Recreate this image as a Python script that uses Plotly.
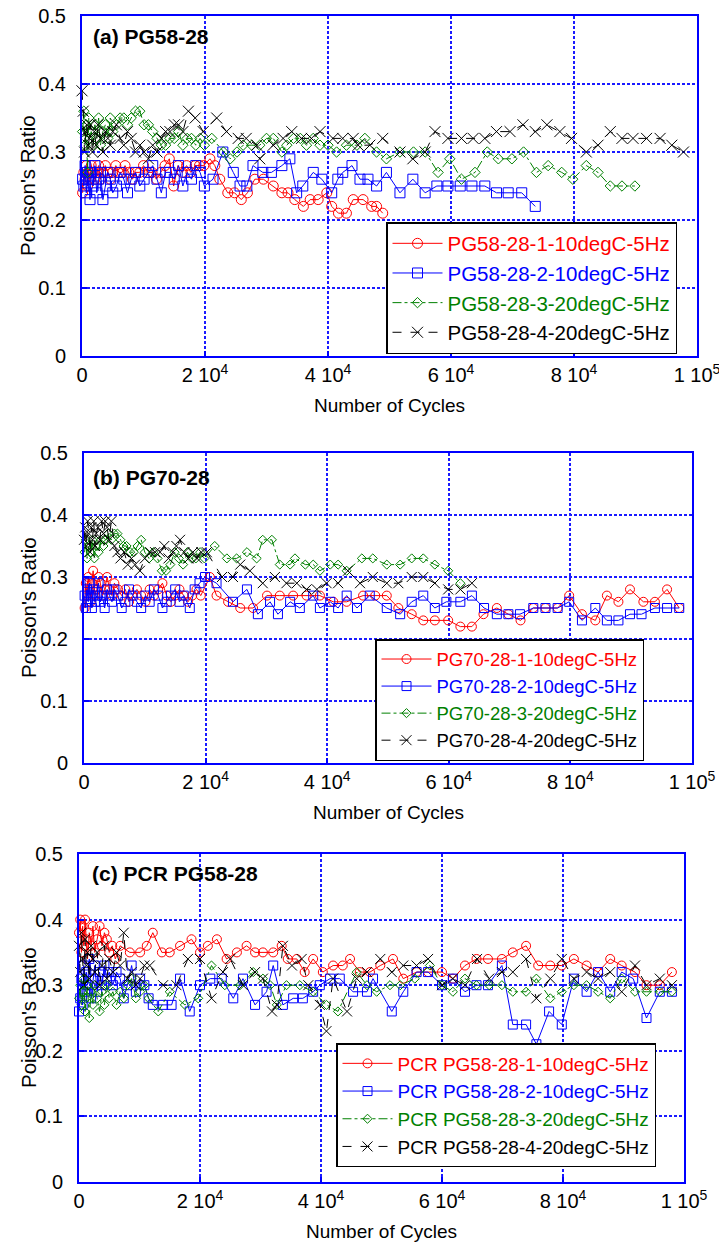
import plotly.graph_objects as go

# ---------------- data: number of cycles vs Poisson's ratio ----------------
# (a) PG58-28
a_red_x = [100, 300, 500, 700, 900, 1100, 1300, 1500, 1800, 2100, 2400, 2700, 3000, 3400, 3800, 4200, 4600,
           5000, 5500, 6000, 6500, 7000, 7600, 8200, 8800, 9400, 10000, 10700, 11400, 12100, 12800, 13500,
           14200, 14900, 15600, 16300, 17000, 17700, 18400, 19100, 19800,
           20800, 21600, 22400, 23700, 24800, 25900, 26900, 28100, 29500, 31100, 32500, 33500, 34600, 36000,
           37100, 38400, 39800, 40600, 41700, 43000, 44100, 45700, 47100, 47900, 48900]
a_red_y = [0.24, 0.27, 0.26, 0.28, 0.25, 0.27, 0.26, 0.28, 0.27, 0.26, 0.27, 0.28, 0.26, 0.27, 0.28, 0.27, 0.26,
           0.27, 0.28, 0.27, 0.27, 0.28, 0.27, 0.26, 0.27, 0.27, 0.28, 0.27, 0.27, 0.26, 0.27, 0.28,
           0.29, 0.25, 0.28, 0.27, 0.28, 0.27, 0.28, 0.28, 0.28,
           0.29, 0.28, 0.26, 0.24, 0.24, 0.23, 0.24, 0.26, 0.26, 0.25, 0.24, 0.24, 0.23, 0.22,
           0.23, 0.23, 0.24, 0.22, 0.21, 0.21, 0.23, 0.23, 0.22, 0.22, 0.21]

a_blue_x = [100, 300, 500, 700, 900, 1100, 1300, 1500, 1800, 2100, 2400, 2700, 3000, 3400, 3800, 4200, 4600,
            5000, 5600, 6200, 6800, 7400, 8000, 8700, 9400, 10100, 10800, 11500, 12200, 12900, 13600, 14300,
            15000, 15700, 16400, 17100, 17800, 18500, 19200, 19900,
            21300, 22900, 24600, 25700, 26800, 27800, 29400, 30800, 32500, 33800, 34900, 35900, 37600, 39000,
            40600, 41600, 42400, 43900, 45200, 46500, 47900, 49500, 51700, 53800, 55800, 57700, 59500, 61500,
            63400, 65500, 67400, 69300, 71500, 73700]
a_blue_y = [0.26, 0.25, 0.28, 0.24, 0.27, 0.26, 0.23, 0.27, 0.25, 0.28, 0.24, 0.26, 0.27, 0.23, 0.25, 0.27, 0.26,
            0.24, 0.25, 0.27, 0.26, 0.24, 0.26, 0.27, 0.25, 0.26, 0.27, 0.28, 0.26, 0.24, 0.27, 0.27,
            0.26, 0.28, 0.25, 0.27, 0.26, 0.28, 0.27, 0.25,
            0.26, 0.30, 0.27, 0.25, 0.25, 0.28, 0.27, 0.27, 0.28, 0.29, 0.24, 0.25, 0.27, 0.26,
            0.24, 0.26, 0.27, 0.28, 0.26, 0.26, 0.25, 0.27, 0.24, 0.26, 0.24, 0.25, 0.25, 0.25,
            0.25, 0.25, 0.24, 0.24, 0.24, 0.22]

a_green_x = [100, 300, 500, 700, 900, 1100, 1300, 1500, 1800, 2100, 2400, 2700, 3000, 3400, 3800, 4200, 4600,
             5000, 5600, 6200, 6800, 7400, 8000, 8700, 9400, 10100, 10800, 11500, 12200, 12900, 13600, 14300,
             15000, 15700, 16400, 17100, 17800, 18500, 19200, 19900,
             21100, 23000, 24100, 25200, 26200, 27600, 28900, 30000, 31100, 32500, 33300, 34400, 35500, 36500,
             37600, 38700, 40000, 41400, 43000, 44700, 46000, 47900, 49500, 51700, 53900, 55800, 57900, 59800,
             61700, 63900, 65900, 67700, 69900, 71800, 73900, 75800, 78000, 79800, 82000, 83900, 85900, 87800,
             89900]
a_green_y = [0.33, 0.36, 0.31, 0.34, 0.27, 0.35, 0.32, 0.33, 0.31, 0.34, 0.32, 0.35, 0.31, 0.33, 0.34, 0.32, 0.35,
             0.33, 0.34, 0.35, 0.35, 0.34, 0.35, 0.36, 0.36, 0.34, 0.34, 0.33, 0.32, 0.31, 0.31, 0.32,
             0.32, 0.33, 0.31, 0.32, 0.32, 0.31, 0.32, 0.31,
             0.32, 0.30, 0.29, 0.30, 0.31, 0.31, 0.31, 0.32, 0.32, 0.30, 0.31, 0.32, 0.32, 0.31,
             0.32, 0.31, 0.31, 0.30, 0.31, 0.31, 0.32, 0.30, 0.29, 0.30, 0.30, 0.30, 0.27, 0.29,
             0.26, 0.27, 0.30, 0.29, 0.29, 0.30, 0.27, 0.28, 0.27, 0.26, 0.28, 0.27, 0.25, 0.25,
             0.25]

a_black_x = [0, 200, 400, 600, 800, 1000, 1200, 1400, 1700, 2000, 2300, 2600, 3000, 3400, 3800, 4200, 4600,
             5000, 5600, 6200, 6800, 7400, 8000, 8700, 9400, 10100, 10800, 11500, 12200, 12900, 13600, 14300,
             15000, 15700, 16400, 17300, 18400, 19700, 21900,
             23500, 25400, 26700, 28400, 28900, 31100, 32700, 34100, 35700, 37300, 38700, 40800, 42400, 44100,
             44900, 46800, 48900, 51700, 53800, 55800, 57400, 59500, 61700, 63600, 65500, 67400, 69600, 71700,
             73700, 75600, 77700, 79600, 82000, 83900, 85900, 87800, 89600, 91800, 94000, 95900, 97800]
a_black_y = [0.39, 0.36, 0.30, 0.33, 0.34, 0.31, 0.32, 0.34, 0.30, 0.33, 0.31, 0.34, 0.32, 0.30, 0.33, 0.32, 0.31,
             0.33, 0.34, 0.32, 0.31, 0.33, 0.32, 0.30, 0.31, 0.30, 0.29, 0.31, 0.30, 0.32, 0.33, 0.33,
             0.34, 0.34, 0.33, 0.36, 0.35, 0.33, 0.35,
             0.33, 0.32, 0.32, 0.31, 0.29, 0.31, 0.32, 0.33, 0.32, 0.32, 0.33, 0.32, 0.32, 0.32,
             0.31, 0.31, 0.32, 0.30, 0.29, 0.30, 0.33, 0.32, 0.32, 0.32, 0.32, 0.33, 0.33, 0.34,
             0.33, 0.34, 0.33, 0.32, 0.30, 0.31, 0.33, 0.32, 0.32, 0.32, 0.32, 0.31, 0.30]

# (b) PG70-28
b_red_x = [100, 300, 500, 700, 900, 1100, 1300, 1500, 1800, 2100, 2400, 2700, 3000, 3400, 3800, 4200, 4600,
           5000, 5600, 6200, 6800, 7400, 8000, 8700, 9400, 10100, 10800, 11500, 12200, 12900, 13600, 14300,
           15000, 15700, 16400, 17100, 17800, 18500, 19200,
           20700, 21800, 23700, 25700, 27800, 30100, 32200, 34400, 36600, 38800, 41000, 43200, 45900, 47900,
           49800, 51700, 53900, 55800, 57700, 59900, 61900, 63800, 65700, 67900, 69800, 71800, 73900, 75900,
           77900, 79800, 81900, 84100, 86000, 87900, 89800, 92000, 93900, 95900, 97900]
b_red_y = [0.25, 0.29, 0.27, 0.30, 0.28, 0.26, 0.29, 0.31, 0.27, 0.28, 0.30, 0.29, 0.27, 0.28, 0.30, 0.28, 0.27,
           0.29, 0.28, 0.27, 0.28, 0.26, 0.27, 0.28, 0.27, 0.26, 0.28, 0.27, 0.28, 0.29, 0.27, 0.26,
           0.27, 0.28, 0.27, 0.26, 0.27, 0.28, 0.27,
           0.30, 0.27, 0.26, 0.25, 0.25, 0.27, 0.27, 0.27, 0.27, 0.27, 0.26, 0.26, 0.27, 0.27,
           0.27, 0.25, 0.24, 0.23, 0.23, 0.23, 0.22, 0.22, 0.24, 0.25, 0.24, 0.23, 0.25, 0.25,
           0.25, 0.27, 0.24, 0.23, 0.27, 0.26, 0.28, 0.26, 0.26, 0.28, 0.25]

b_blue_x = [100, 300, 500, 700, 900, 1100, 1300, 1500, 1800, 2100, 2400, 2700, 3000, 3400, 3800, 4200, 4600,
            5000, 5600, 6200, 6800, 7400, 8000, 8700, 9400, 10100, 10800, 11500, 12200, 12900, 13600, 14300,
            15000, 15700, 16400, 17400, 18200, 19000, 19900,
            21800, 24500, 26800, 28600, 30600, 31900, 33900, 35500, 37700, 38800, 40500, 41800, 43200, 44900,
            47000, 49800, 52000, 53900, 55800, 57700, 59600, 61900, 63800, 65800, 67900, 69800, 71700, 73900,
            75900, 77900, 79800, 81900, 84100, 86000, 87900, 89800, 91700, 93900, 95900, 97900]
b_blue_y = [0.27, 0.25, 0.28, 0.26, 0.29, 0.27, 0.25, 0.28, 0.26, 0.27, 0.29, 0.26, 0.27, 0.25, 0.28, 0.27, 0.26,
            0.28, 0.27, 0.25, 0.26, 0.28, 0.27, 0.26, 0.25, 0.27, 0.26, 0.28, 0.27, 0.25, 0.26, 0.27,
            0.28, 0.26, 0.27, 0.25, 0.28, 0.29, 0.30,
            0.29, 0.26, 0.28, 0.24, 0.26, 0.24, 0.26, 0.25, 0.27, 0.25, 0.26, 0.25, 0.27, 0.25,
            0.27, 0.25, 0.24, 0.26, 0.27, 0.25, 0.26, 0.26, 0.27, 0.25, 0.24, 0.24, 0.24, 0.25,
            0.25, 0.25, 0.26, 0.23, 0.25, 0.23, 0.23, 0.24, 0.24, 0.25, 0.25, 0.25]

b_green_x = [100, 300, 500, 800, 1100, 1400, 1700, 2000, 2400, 2800, 3200, 3600, 4000, 4500, 5000, 5500, 6000,
             6500, 7000, 7600, 8200, 8800, 9400, 10000, 10700, 11400, 12100, 12800, 13500, 14200, 14900, 15600,
             16300, 17000, 17700, 18400, 19100, 19800,
             21500, 23500, 25100, 26800, 28400, 29400, 30900, 32200, 33900, 34700, 36400, 37700, 38800, 40500,
             41800, 43200, 45700, 47500, 49800, 52000, 53900, 55800, 57700, 59900, 61900]
b_green_y = [0.34, 0.36, 0.33, 0.35, 0.34, 0.36, 0.33, 0.35, 0.34, 0.36, 0.35, 0.36, 0.37, 0.36, 0.37, 0.37, 0.36,
             0.35, 0.35, 0.34, 0.34, 0.35, 0.36, 0.34, 0.33, 0.34, 0.33, 0.31, 0.31, 0.32, 0.34, 0.33,
             0.32, 0.34, 0.33, 0.33, 0.34, 0.33,
             0.35, 0.33, 0.33, 0.34, 0.33, 0.36, 0.36, 0.32, 0.32, 0.33, 0.32, 0.32, 0.31, 0.32,
             0.32, 0.31, 0.33, 0.33, 0.32, 0.32, 0.33, 0.33, 0.32, 0.31, 0.29]

b_black_x = [0, 200, 400, 600, 800, 1000, 1200, 1400, 1600, 1800, 2000, 2300, 2600, 2900, 3200, 3500, 3800,
             4100, 4500, 5000, 5500, 6000, 6600, 7200, 7800, 8400, 9200, 10000, 10900, 11700, 12500, 13200,
             13900, 14600, 15200, 15800, 16500, 17200, 17900, 18600, 19300, 20200,
             22700, 24500, 25700, 27300, 29400, 31400, 33300, 35000, 36600, 38300, 39900, 41800, 43400, 45400,
             47500, 49800, 51700, 53900, 55800, 57700, 59900, 61900, 63800]
b_black_y = [0.36, 0.38, 0.35, 0.39, 0.37, 0.34, 0.38, 0.36, 0.39, 0.35, 0.37, 0.38, 0.36, 0.39, 0.37, 0.39, 0.38,
             0.36, 0.39, 0.35, 0.34, 0.33, 0.34, 0.32, 0.33, 0.32, 0.31, 0.33, 0.34, 0.34, 0.34, 0.35,
             0.33, 0.34, 0.35, 0.36, 0.34, 0.33, 0.34, 0.33, 0.34, 0.34,
             0.30, 0.30, 0.32, 0.31, 0.29, 0.30, 0.29, 0.29, 0.28, 0.28, 0.29, 0.29, 0.31, 0.29,
             0.30, 0.29, 0.29, 0.30, 0.30, 0.29, 0.28, 0.28, 0.29]

# (c) PCR PG58-28
c_red_x = [0, 200, 400, 600, 800, 1000, 1200, 1400, 1700, 2000, 2300, 2600, 3000, 3400, 3800, 4200, 4600,
           5000, 5500, 6000, 6800, 8400, 10100, 11200, 12200, 13700, 15000, 16700, 18600, 20000, 21300, 22800,
           24400, 26100, 27700, 29100, 30400, 32100, 33500, 34500, 36000, 37300, 38700, 40300, 42000, 43600,
           44800, 46400, 48100, 49800, 51900, 53600, 55800, 57700, 60000, 61800, 63800, 65700, 67600, 69900,
           71700, 73900, 75900, 77900, 79800, 81800, 83900, 85800, 87800, 89700, 91900, 93800, 96000, 98000]
c_red_y = [0.38, 0.40, 0.35, 0.39, 0.36, 0.40, 0.37, 0.34, 0.38, 0.36, 0.39, 0.35, 0.37, 0.39, 0.36, 0.38, 0.37,
           0.35, 0.36, 0.34, 0.36, 0.35, 0.35, 0.36, 0.38, 0.35, 0.35, 0.36, 0.37, 0.35, 0.36, 0.37,
           0.34, 0.35, 0.36, 0.35, 0.35, 0.35, 0.36, 0.34, 0.34, 0.32, 0.34, 0.32, 0.33, 0.33,
           0.34, 0.32, 0.32, 0.33, 0.34, 0.31, 0.32, 0.32, 0.32, 0.31, 0.33, 0.34, 0.34, 0.34,
           0.35, 0.36, 0.33, 0.33, 0.33, 0.34, 0.33, 0.32, 0.34, 0.33, 0.32, 0.30, 0.30, 0.32]

c_blue_x = [0, 200, 400, 600, 800, 1000, 1200, 1400, 1700, 2000, 2300, 2600, 3000, 3400, 3800, 4200, 4600,
            5000, 5600, 6200, 6800, 7400, 8000, 8700, 9400, 10100, 10800, 11500, 12200, 13900, 15300, 16700,
            18300, 20000, 21700, 23600, 25500, 27100, 29100, 31000, 32100, 33700, 35400, 37000, 38700, 39800,
            41500, 43100, 45300, 47600, 48600, 51700, 53600, 55800, 57700, 60000, 61800, 63800, 65700, 67600,
            69900, 71700, 73900, 75600, 77700, 79800, 81800, 83900, 85800, 87800, 89700, 91600, 93800, 96000,
            98000]
c_blue_y = [0.26, 0.28, 0.31, 0.27, 0.33, 0.29, 0.32, 0.30, 0.34, 0.28, 0.31, 0.33, 0.29, 0.32, 0.30, 0.33, 0.31,
            0.32, 0.30, 0.32, 0.31, 0.28, 0.30, 0.33, 0.29, 0.31, 0.30, 0.28, 0.27, 0.27, 0.27, 0.31,
            0.26, 0.30, 0.31, 0.31, 0.28, 0.31, 0.27, 0.29, 0.33, 0.27, 0.28, 0.28, 0.29, 0.30,
            0.31, 0.31, 0.29, 0.29, 0.31, 0.26, 0.29, 0.32, 0.32, 0.30, 0.31, 0.29, 0.30, 0.30,
            0.33, 0.24, 0.24, 0.21, 0.26, 0.24, 0.31, 0.29, 0.32, 0.29, 0.32, 0.31, 0.25, 0.29,
            0.29]

c_green_x = [0, 200, 400, 600, 800, 1000, 1200, 1400, 1700, 2000, 2300, 2600, 3000, 3400, 3800, 4200, 4600,
             5000, 5600, 6200, 6800, 7400, 8000, 8700, 9400, 10100, 10800, 11500, 13100, 15000, 17500, 19700,
             21900, 24100, 26600, 28800, 30400, 31600, 32700, 34300, 36500, 38700, 40900, 42800, 45900, 47600,
             49200, 51400, 53100, 55500, 58000, 60000, 61800, 63800, 65700, 67800, 69900, 71700, 73900, 75600,
             77900, 79800, 81800, 83900, 85800, 87800, 89700, 91900, 93800, 96000, 98000]
c_green_y = [0.28, 0.30, 0.27, 0.29, 0.31, 0.26, 0.28, 0.30, 0.25, 0.29, 0.27, 0.30, 0.28, 0.26, 0.29, 0.27, 0.30,
             0.28, 0.29, 0.27, 0.29, 0.28, 0.30, 0.31, 0.28, 0.29, 0.30, 0.28, 0.26, 0.29, 0.27, 0.28,
             0.33, 0.30, 0.30, 0.32, 0.31, 0.30, 0.27, 0.30, 0.30, 0.29, 0.27, 0.26, 0.32, 0.30,
             0.29, 0.30, 0.30, 0.31, 0.33, 0.30, 0.29, 0.31, 0.30, 0.30, 0.30, 0.29, 0.29, 0.31,
             0.28, 0.29, 0.30, 0.30, 0.29, 0.28, 0.31, 0.29, 0.29, 0.29, 0.29]

c_black_x = [0, 200, 400, 600, 800, 1000, 1200, 1400, 1700, 2000, 2300, 2600, 3000, 3400, 3800, 4200, 4600,
             5000, 5600, 6200, 6800, 7400, 8000, 8700, 9400, 10100, 10800, 11700, 13900, 16100, 18000, 20000,
             21900, 23800, 25000, 27100, 29100, 30400, 31900, 32700, 33700, 35200, 36800, 37900, 39800, 40900,
             42000, 44300, 45900, 47600, 49800, 51700, 53600, 55800, 57700, 60000, 61800, 63800, 65800, 67800,
             69900, 71700, 73900, 75600, 77900, 79800, 81800, 83900, 85800, 87800, 89700, 91900, 93800, 96000,
             98000]
c_black_y = [0.36, 0.32, 0.38, 0.34, 0.30, 0.37, 0.33, 0.35, 0.31, 0.36, 0.34, 0.32, 0.35, 0.30, 0.33, 0.36, 0.31,
             0.34, 0.32, 0.35, 0.33, 0.38, 0.31, 0.32, 0.30, 0.31, 0.33, 0.33, 0.30, 0.30, 0.34, 0.34,
             0.28, 0.32, 0.34, 0.30, 0.32, 0.31, 0.26, 0.27, 0.36, 0.33, 0.34, 0.30, 0.27, 0.23,
             0.31, 0.26, 0.31, 0.32, 0.34, 0.32, 0.33, 0.33, 0.34, 0.30, 0.31, 0.30, 0.34, 0.31,
             0.32, 0.32, 0.34, 0.28, 0.31, 0.34, 0.31, 0.32, 0.31, 0.32, 0.29, 0.33, 0.30, 0.31,
             0.30]

x_tick_vals = [0, 20000, 40000, 60000, 80000, 100000]
x_tick_text = ["0", "2 10<sup>4</sup>", "4 10<sup>4</sup>", "6 10<sup>4</sup>", "8 10<sup>4</sup>", "1 10<sup>5</sup>"]
y_tick_vals = [0, 0.1, 0.2, 0.3, 0.4, 0.5]
y_tick_text = ["0", "0.1", "0.2", "0.3", "0.4", "0.5"]

# ---------------- styling ----------------
FONT = "Liberation Sans, Arial, Helvetica, sans-serif"
W, H = 719, 1253
RED, BLUE, GREEN, BLACK = "#ff0000", "#0000ff", "#008000", "#000000"
GRID = "#1a1aff"

STYLES = [
    (RED, "solid", "circle-open"),
    (BLUE, "solid", "square-open"),
    (GREEN, "dashdot", "diamond-open"),
    (BLACK, "dash", "x-thin-open"),
]

# panel boxes in pixels: left, right, top, bottom; legend anchor (x, y, yanchor, font size)
panels = [
    dict(box=(82, 697, 16, 356), label="(a) PG58-28", label_xy=(91, 36),
         names=["PG58-28-1-10degC-5Hz", "PG58-28-2-10degC-5Hz", "PG58-28-3-20degC-5Hz", "PG58-28-4-20degC-5Hz"],
         series=[(a_red_x, a_red_y), (a_blue_x, a_blue_y), (a_green_x, a_green_y), (a_black_x, a_black_y)],
         legend_pos=(386, 288, "middle", 20.5), msizes=[10, 10, 8, 11]),
    dict(box=(84, 692, 453, 763), label="(b) PG70-28", label_xy=(91, 477),
         names=["PG70-28-1-10degC-5Hz", "PG70-28-2-10degC-5Hz", "PG70-28-3-20degC-5Hz", "PG70-28-4-20degC-5Hz"],
         series=[(b_red_x, b_red_y), (b_blue_x, b_blue_y), (b_green_x, b_green_y), (b_black_x, b_black_y)],
         legend_pos=(375, 761, "bottom", 18.5), msizes=[9, 9, 7, 10]),
    dict(box=(79, 684, 854, 1182), label="(c) PCR PG58-28", label_xy=(90, 873),
         names=["PCR PG58-28-1-10degC-5Hz", "PCR PG58-28-2-10degC-5Hz", "PCR PG58-28-3-20degC-5Hz",
                "PCR PG58-28-4-20degC-5Hz"],
         series=[(c_red_x, c_red_y), (c_blue_x, c_blue_y), (c_green_x, c_green_y), (c_black_x, c_black_y)],
         legend_pos=(336, 1167, "bottom", 19), msizes=[9, 9, 7, 10]),
]

fig = go.Figure()
layout = dict(width=W, height=H, margin=dict(l=0, r=0, t=0, b=0, autoexpand=False),
              paper_bgcolor="white", plot_bgcolor="white", showlegend=True,
              font=dict(family=FONT, size=19, color="black"))
annotations = []

for i, p in enumerate(panels):
    n = "" if i == 0 else str(i + 1)
    left, right, top, bottom = p["box"]
    xdom = [left / W, right / W]
    ydom = [1 - bottom / H, 1 - top / H]
    axis_common = dict(showline=True, linecolor="#0000ff", linewidth=2, mirror=True,
                       showgrid=True, gridcolor=GRID, gridwidth=1.5, griddash="3px,2px",
                       ticks="inside", ticklen=5, tickcolor="#0000ff", tickwidth=1.5, zeroline=False,
                       automargin=False, ticklabeloverflow="allow",
                       tickfont=dict(family=FONT, size=20, color="black"))
    layout["xaxis" + n] = dict(domain=xdom, range=[0, 100000], anchor="y" + n,
                               tickvals=x_tick_vals, ticktext=x_tick_text, ticklabelstandoff=0,
                               **axis_common)
    layout["yaxis" + n] = dict(domain=ydom, range=[0, 0.5], anchor="x" + n,
                               tickvals=y_tick_vals, ticktext=y_tick_text, ticklabelstandoff=10,
                               **axis_common)

    legend_name = "legend" + n
    for (color, dash, symbol), (xs, ys), name, ms in zip(STYLES, p["series"], p["names"], p["msizes"]):
        fig.add_trace(go.Scatter(
            x=xs, y=ys, mode="lines+markers", xaxis="x" + n, yaxis="y" + n,
            name='<span style="color:%s">%s</span>' % (color, name),
            line=dict(color=color, width=1, dash=dash),
            marker=dict(symbol=symbol, size=ms, color=color, line=dict(color=color, width=1)),
            cliponaxis=False, legend=legend_name))

    lx, ly, lanchor, lfs = p["legend_pos"]
    layout[legend_name] = dict(x=lx / W, y=1 - ly / H, xanchor="left", yanchor=lanchor,
                               bgcolor="white", bordercolor="black", borderwidth=1.5,
                               itemwidth=50, font=dict(family=FONT, size=lfs), tracegroupgap=0)

    annotations.append(dict(text="<b>%s</b>" % p["label"], xref="paper", yref="paper",
                            x=p["label_xy"][0] / W, y=1 - p["label_xy"][1] / H,
                            xanchor="left", yanchor="middle", showarrow=False,
                            font=dict(family=FONT, size=21, color="black")))
    annotations.append(dict(text="Number of Cycles", xref="paper", yref="paper",
                            x=(left + right) / 2 / W, y=1 - (bottom + 49) / H,
                            xanchor="center", yanchor="middle", showarrow=False,
                            font=dict(family=FONT, size=19, color="black")))
    annotations.append(dict(text="Poisson's Ratio", xref="paper", yref="paper",
                            x=28 / W, y=1 - (top + bottom) / 2 / H, textangle=-90,
                            xanchor="center", yanchor="middle", showarrow=False,
                            font=dict(family=FONT, size=20.5, color="black")))

layout["annotations"] = annotations
fig.update_layout(**layout)
fig.write_html("out.html")
